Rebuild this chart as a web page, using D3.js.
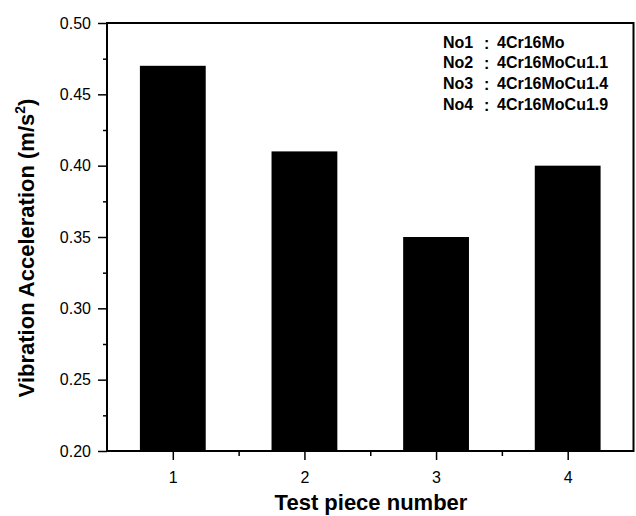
<!DOCTYPE html>
<html>
<head>
<meta charset="utf-8">
<script src="https://cdn.jsdelivr.net/npm/d3@7"></script>
<style>
  body { margin: 0; background: #fff; }
  svg { display: block; font-family: Arial, "Liberation Sans", sans-serif; }
</style>
</head>
<body>
<div id="chart"></div>
<script>
// data
var pieces = [1, 2, 3, 4];
var accel = [0.47, 0.41, 0.35, 0.40];
var yTicks = [0.20, 0.25, 0.30, 0.35, 0.40, 0.45, 0.50];
var legendNames = ["No1", "No2", "No3", "No4"];
var legendSteels = ["4Cr16Mo", "4Cr16MoCu1.1", "4Cr16MoCu1.4", "4Cr16MoCu1.9"];

var W = 636, H = 516;
var margin = {top: 23, right: 2.5, bottom: 65, left: 107};
var width = W - margin.left - margin.right,
    height = H - margin.top - margin.bottom;

var svg = d3.select("#chart").append("svg").attr("width", W).attr("height", H);
var g = svg.append("g").attr("transform", "translate(" + margin.left + "," + margin.top + ")");

var x = d3.scaleLinear().domain([0.5, 4.5]).range([0, width]);
var y = d3.scaleLinear().domain([0.20, 0.50]).range([height, 0]);
var barW = x(1.5) - x(1);

// bars
g.selectAll("rect.bar")
  .data(pieces)
  .enter().append("rect")
    .attr("class", "bar")
    .attr("x", function(d) { return x(d) - barW / 2; })
    .attr("y", function(d, i) { return y(accel[i]); })
    .attr("width", barW)
    .attr("height", function(d, i) { return height - y(accel[i]); })
    .attr("fill", "#000");

// minor ticks
var yMinor = d3.range(0, 6).map(function(i) { return 0.225 + i * 0.05; });
var xMinor = [1.5, 2.5, 3.5];

g.append("g")
    .call(d3.axisLeft(y).tickValues(yTicks).tickFormat(d3.format(".2f")).tickSize(9).tickPadding(7));
g.append("g")
    .call(d3.axisLeft(y).tickValues(yMinor).tickFormat("").tickSize(4));

g.append("g").attr("transform", "translate(0," + height + ")")
    .call(d3.axisBottom(x).tickValues(pieces).tickFormat(d3.format("d")).tickSize(9).tickPadding(12));
g.append("g").attr("transform", "translate(0," + height + ")")
    .call(d3.axisBottom(x).tickValues(xMinor).tickFormat("").tickSize(5));

g.selectAll(".domain").remove();
g.selectAll(".tick line").attr("stroke", "#000").attr("stroke-width", 1.5);
g.selectAll(".tick text").attr("font-size", 16).attr("fill", "#000")
  .attr("font-family", "Arial, 'Liberation Sans', sans-serif");

// frame
g.append("rect")
  .attr("width", width).attr("height", height)
  .attr("fill", "none").attr("stroke", "#000").attr("stroke-width", 2);

// axis titles
svg.append("text")
  .attr("x", 371)
  .attr("y", 510)
  .attr("text-anchor", "middle")
  .attr("font-size", 22).attr("font-weight", "bold")
  .text("Test piece number");

var yt = svg.append("text")
  .attr("transform", "translate(34," + (margin.top + height / 2 + 11) + ") rotate(-90)")
  .attr("text-anchor", "middle")
  .attr("font-size", 22).attr("font-weight", "bold");
yt.append("tspan").text("Vibration Acceleration (m/s");
yt.append("tspan").attr("dy", -9).attr("font-size", 14).text("2");
yt.append("tspan").attr("dy", 9).text(")");

// legend text
var leg = g.append("g").selectAll("g")
  .data(legendNames)
  .enter().append("g")
    .attr("transform", function(d, i) { return "translate(336," + (24.5 + i * 20.9) + ")"; })
    .attr("font-size", 16).attr("font-weight", "bold");
leg.append("text").text(function(d) { return d; });
leg.append("text").attr("x", 41).attr("y", 1).text(":");
leg.append("text").attr("x", 54).text(function(d, i) { return legendSteels[i]; });
</script>
</body>
</html>
